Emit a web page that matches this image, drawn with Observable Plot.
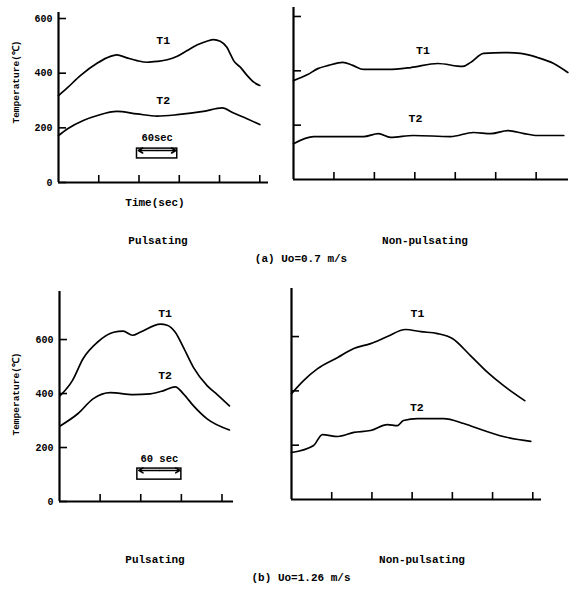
<!DOCTYPE html>
<html><head><meta charset="utf-8">
<script src="https://cdn.jsdelivr.net/npm/d3@7"></script>
<script src="https://cdn.jsdelivr.net/npm/@observablehq/plot@0.6"></script>
<style>
html,body{margin:0;padding:0;background:#fff;}
#root{position:relative;width:573px;height:591px;overflow:hidden;background:#fff;font-family:"Liberation Mono","DejaVu Sans Mono",monospace;font-weight:bold;color:#000;}
.lbl{position:absolute;white-space:nowrap;transform:translate(-50%,-50%);font-size:11px;line-height:1;}
.rot{position:absolute;white-space:nowrap;transform:translate(-50%,-50%) rotate(-90deg);font-size:9.5px;line-height:1;}
.panel{position:absolute;}
</style></head><body><div id="root"></div>
<script>
// ---------- data (time in s, temperature in °C) ----------
// (a) Uo=0.7 m/s, pulsating
const aPulsT1Time = [0,13,33,58,72,87,102,117,132,147,162,177,192,207,221,231,241,251,256,261,271,281,291,300];
const aPulsT1Temp = [318,346,392,437,456,467,456,446,440,443,449,462,483,504,517,523,517,495,471,446,422,392,367,355];
const aPulsT2Time = [0,13,37,58,87,117,147,177,216,244,261,281,300];
const aPulsT2Temp = [172,196,227,245,260,251,243,248,260,273,254,233,212];
// (a) Uo=0.7 m/s, non-pulsating
const aNonT1Time = [0,21,36,52,73,88,104,140,174,214,251,263,282,312,337,362,386,407];
const aNonT1Temp = [364,386,408,420,431,420,405,405,412,427,416,431,464,467,464,449,427,394];
const aNonT2Time = [0,30,65,104,126,144,178,233,267,293,318,342,362,401];
const aNonT2Temp = [132,158,158,158,169,155,162,158,173,169,180,169,162,162];
// (b) Uo=1.26 m/s, pulsating
const bPulsT1Time = [1,19,35,56,80,94,108,119,149,159,171,183,198,218,233,251];
const bPulsT1Temp = [392,448,530,590,627,631,616,627,657,653,627,571,496,429,396,354];
const bPulsT2Time = [1,27,50,75,109,134,153,171,183,198,218,251];
const bPulsT2Temp = [280,325,381,403,396,399,410,425,399,354,306,265];
// (b) Uo=1.26 m/s, non-pulsating
const bNonT1Time = [0,18,39,69,93,118,143,170,193,218,240,267,293,316,348];
const bNonT1Temp = [390,438,482,523,556,574,600,626,618,611,593,530,467,420,364];
const bNonT2Time = [0,33,46,69,93,118,143,158,167,188,227,257,287,316,357];
const bNonT2Temp = [173,199,239,232,247,254,276,272,291,298,298,280,254,232,214];

// tick values
const yTicksLabelled = [0,200,400,600];
const yTicksPlain = [200,400,600];
const xTicks4 = [60,120,180,240];
const xTicks5 = [60,120,180,240,300];
const xTicks6 = [60,120,180,240,300,360];

// curve labels (data coordinates)
const aPulsLabels = [{t:156,v:520,text:"T1"},{t:156,v:300,text:"T2"}];
const aNonLabels  = [{t:192,v:475,text:"T1"},{t:181,v:225,text:"T2"}];
const bPulsLabels = [{t:156,v:698,text:"T1"},{t:156,v:466,text:"T2"}];
const bNonLabels  = [{t:188,v:685,text:"T1"},{t:187,v:339,text:"T2"}];

// 60-second scale bars
const aScaleBar = {t1:117,t2:177,v1:88,v2:124,va:117,vl:165,text:"60sec"};
const bScaleBar = {t1:115,t2:180,v1:81,v2:122,va:115,vl:159,text:"60 sec"};

// captions
const captions = [
  {text:"Time(sec)", x:155, y:203},
  {text:"Pulsating", x:158, y:241},
  {text:"Non-pulsating", x:425, y:241},
  {text:"(a) Uo=0.7 m/s", x:301, y:259},
  {text:"Pulsating", x:155, y:560},
  {text:"Non-pulsating", x:422, y:560},
  {text:"(b) Uo=1.26 m/s", x:301, y:578}
];
const yTitles = [{text:"Temperature(℃)", x:17, y:82},{text:"Temperature(℃)", x:17, y:394}];

function rowsOf(t1t,t1v,t2t,t2v){
  const r=[];
  t1t.forEach((t,i)=>r.push({s:"T1",t,v:t1v[i]}));
  t2t.forEach((t,i)=>r.push({s:"T2",t,v:t2v[i]}));
  return r;
}

function panel(o){
  const marks = [
    Plot.line(o.rows,{x:"t",y:"v",z:"s",stroke:"#000",strokeWidth:1.7,curve:"monotone-x"}),
    Plot.text(o.labels,{x:"t",y:"v",text:"text",fontSize:11.5,fontWeight:"bold"}),
    Plot.axisY({ticks:o.yTicks,tickSize:-8,tickPadding:14,tickFormat:o.yLabels?(d=>String(d)):(()=>""),label:null,fontSize:10,fontWeight:"bold",strokeWidth:1.6}),
    Plot.axisX({ticks:o.xTicks,tickSize:-7,tickPadding:0,tickFormat:()=>"",label:null,strokeWidth:1.6}),
    Plot.ruleX([0],{strokeWidth:2.2}),
    Plot.ruleY([0],{strokeWidth:2.2})
  ];
  if(o.bar){
    const b=o.bar, mid=(b.t1+b.t2)/2;
    marks.push(
      Plot.rect([b],{x1:"t1",x2:"t2",y1:"v1",y2:"v2",fill:"none",stroke:"#000",strokeWidth:1.5}),
      Plot.arrow([{x1:mid,x2:b.t1+2,y:b.va},{x1:mid,x2:b.t2-2,y:b.va}],{x1:"x1",x2:"x2",y1:"y",y2:"y",headLength:5,strokeWidth:1.5,stroke:"#000"}),
      Plot.text([b],{x:d=>(d.t1+d.t2)/2,y:"vl",text:"text",fontSize:10.5,fontWeight:"bold"})
    );
  }
  const svg = Plot.plot({
    width:o.width,height:o.height,
    marginLeft:o.ml,marginTop:o.mt,marginRight:4,marginBottom:10,
    x:{domain:o.xDomain},
    y:{domain:o.yDomain},
    style:{fontFamily:'"Liberation Mono","DejaVu Sans Mono",monospace',fontWeight:"bold",background:"transparent",overflow:"visible",color:"#000"},
    marks
  });
  const wrap=document.createElement("div");
  wrap.className="panel";
  wrap.style.left=o.left+"px"; wrap.style.top=o.top+"px";
  wrap.appendChild(svg);
  return wrap;
}

const root=document.getElementById("root");
root.appendChild(panel({left:0,top:0,width:272,height:192,ml:58,mt:12,xDomain:[0,313],yDomain:[0,622],
  rows:rowsOf(aPulsT1Time,aPulsT1Temp,aPulsT2Time,aPulsT2Temp),labels:aPulsLabels,yTicks:yTicksLabelled,yLabels:true,xTicks:xTicks5,bar:aScaleBar}));
root.appendChild(panel({left:283,top:0,width:289,height:189,ml:10,mt:7,xDomain:[0,408],yDomain:[0,633],
  rows:rowsOf(aNonT1Time,aNonT1Temp,aNonT2Time,aNonT2Temp),labels:aNonLabels,yTicks:yTicksPlain,yLabels:false,xTicks:xTicks6}));
root.appendChild(panel({left:0,top:280,width:237,height:231,ml:59,mt:11,xDomain:[0,257],yDomain:[0,778],
  rows:rowsOf(bPulsT1Time,bPulsT1Temp,bPulsT2Time,bPulsT2Temp),labels:bPulsLabels,yTicks:yTicksLabelled,yLabels:true,xTicks:xTicks4,bar:bScaleBar}));
root.appendChild(panel({left:281,top:280,width:264,height:229,ml:10,mt:8,xDomain:[0,373],yDomain:[0,777],
  rows:rowsOf(bNonT1Time,bNonT1Temp,bNonT2Time,bNonT2Temp),labels:bNonLabels,yTicks:yTicksPlain,yLabels:false,xTicks:xTicks6}));

for(const c of captions){
  const d=document.createElement("div"); d.className="lbl"; d.textContent=c.text;
  d.style.left=c.x+"px"; d.style.top=c.y+"px"; root.appendChild(d);
}
for(const c of yTitles){
  const d=document.createElement("div"); d.className="rot"; d.textContent=c.text;
  d.style.left=c.x+"px"; d.style.top=c.y+"px"; root.appendChild(d);
}
</script></body></html>
